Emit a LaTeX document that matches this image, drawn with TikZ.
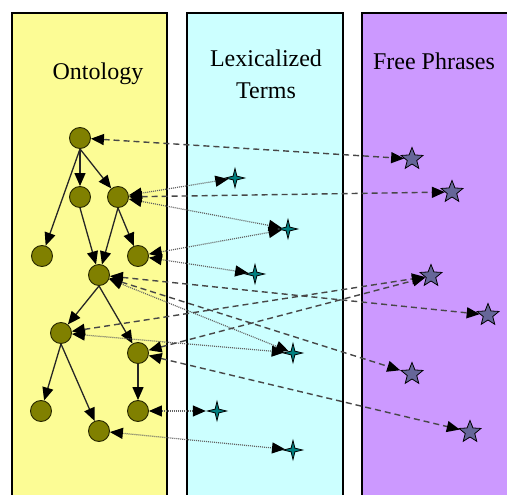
\documentclass[tikz,border=0pt]{standalone}
\usepackage{fontspec}
\setmainfont{Liberation Serif}
\usetikzlibrary{shapes.geometric,arrows.meta}
\definecolor{panelY}{HTML}{FCFC95}
\definecolor{panelC}{HTML}{CCFFFF}
\definecolor{panelP}{HTML}{CC99FF}
\definecolor{olivefill}{HTML}{808000}
\definecolor{slatefill}{HTML}{666699}
\definecolor{tealfill}{HTML}{008080}
\begin{document}
\begin{tikzpicture}[x=1pt,y=-1pt,
  panel/.style={draw=black,line width=1.2pt},
  title/.style={font=\fontsize{24}{28}\selectfont,anchor=base},
  onode/.style={circle,minimum size=21pt,inner sep=0pt,fill=olivefill,draw=black!70!olivefill,line width=0.9pt},
  pnode/.style={star,star points=5,star point ratio=2.3,minimum size=23pt,inner sep=0pt,fill=slatefill,draw=black,line width=0.8pt},
  lnode/.style={star,star points=4,star point ratio=3.6,minimum size=19pt,inner sep=0pt,fill=tealfill,draw=black,line width=0.8pt},
  treeedge/.style={draw=black!85,line width=1.3pt,-{Triangle[length=13pt,width=11pt,color=black]}},
  dashlink/.style={draw=black!72,line width=1.4pt,dash pattern=on 6pt off 4pt,{Triangle[length=13pt,width=11pt,color=black]}-{Triangle[length=13pt,width=11pt,color=black]}},
  dotlink/.style={draw=black!62,line width=1.2pt,dash pattern=on 1pt off 1pt,{Triangle[length=13pt,width=11pt,color=black]}-{Triangle[length=13pt,width=11pt,color=black]}}]
\useasboundingbox (0,0) rectangle (507,495);
\begin{scope}
\clip (0,0) rectangle (507,495);
\draw[panel,fill=panelY] (12,13) rectangle (167,505);
\draw[panel,fill=panelC] (187,13) rectangle (343,505);
\draw[panel,fill=panelP] (362,13) rectangle (530,505);
\end{scope}
\node[title] (t1) at (98,80) {Ontology};
\node[title] (t2) at (266,67) {Lexicalized};
\node[title] (t3) at (266,99) {Terms};
\node[title] (t4) at (434,70) {Free Phrases};
% ontology
\node[onode] (A) at (80,138) {};
\node[onode] (B) at (80,197) {};
\node[onode] (C) at (118,197) {};
\node[onode] (D) at (42,256) {};
\node[onode] (E) at (138,256) {};
\node[onode] (F) at (99,275) {};
\node[onode] (G) at (61,333) {};
\node[onode] (H) at (138,353) {};
\node[onode] (I) at (41,411) {};
\node[onode] (J) at (138,411) {};
\node[onode] (K) at (99,431) {};
% lexicalized terms
\node[lnode] (L1) at (235,178) {};
\node[lnode] (L2) at (288,229) {};
\node[lnode] (L3) at (255,274) {};
\node[lnode] (L4) at (293,353) {};
\node[lnode] (L5) at (217,411) {};
\node[lnode] (L6) at (293,450) {};
% free phrases
\node[pnode] (P1) at (412,159) {};
\node[pnode] (P2) at (452,192) {};
\node[pnode] (P3) at (431,276) {};
\node[pnode] (P4) at (488,315) {};
\node[pnode] (P5) at (412,374) {};
\node[pnode] (P6) at (470,432) {};
% tree edges
\draw[treeedge] (A.south) -- (D);
\draw[treeedge] (A.south) -- (B);
\draw[treeedge] (A.south) -- (C);
\draw[treeedge] (B.south) -- (F);
\draw[treeedge] (C.south) -- (F);
\draw[treeedge] (C.south) -- (E);
\draw[treeedge] (F.south) -- (G);
\draw[treeedge] (F.south) -- (H);
\draw[treeedge] (G.south) -- (I);
\draw[treeedge] (G.south) -- (K);
\draw[treeedge] (H.south) -- (J);
% dotted links to lexicalized terms
\draw[dotlink] (C) -- (L1);
\draw[dotlink] (C) -- (L2);
\draw[dotlink] (E) -- (L2);
\draw[dotlink] (E) -- (L3);
\draw[dotlink] (F) -- (L4);
\draw[dotlink] (G) -- (L4);
\draw[dotlink] (J) -- (L5);
\draw[dotlink] (K) -- (L6);
% dashed links to free phrases
\draw[dashlink] (A) -- (P1);
\draw[dashlink] (C) -- (P2);
\draw[dashlink] (F) -- (P4);
\draw[dashlink] (F) -- (P5);
\draw[dashlink] (G) -- (P3);
\draw[dashlink] (H) -- (P3);
\draw[dashlink] (H) -- (P6);
\end{tikzpicture}
\end{document}
